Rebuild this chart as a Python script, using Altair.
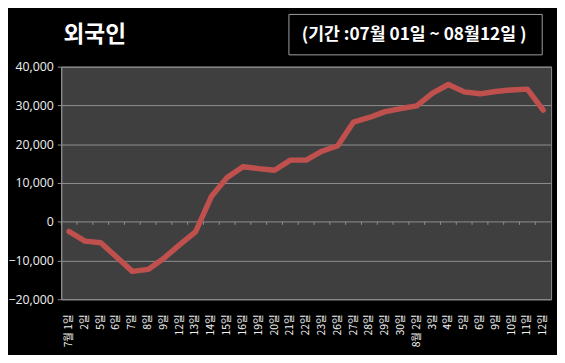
import altair as alt
import pandas as pd

# Tick labels (trading days 07/01 ~ 08/12)
labels = ["7월 1일", "2일", "5일", "6일", "7일", "8일", "9일", "12일", "13일", "14일",
          "15일", "16일", "19일", "20일", "21일", "22일", "23일", "26일", "27일", "28일",
          "29일", "30일", "8월 2일", "3일", "4일", "5일", "6일", "9일", "10일", "11일", "12일"]
# Cumulative foreign net buying
values = [-2500, -5000, -5400, -9100, -12800, -12300, -9400, -5900, -2600, 6500,
          11400, 14200, 13700, 13300, 15900, 15900, 18200, 19600, 25700, 26900,
          28400, 29200, 29900, 33200, 35400, 33500, 33000, 33600, 34000, 34200, 28800]
y_ticks = [-20000, -10000, 0, 10000, 20000, 30000, 40000]
title_text = "외국인"
period_text = "(기간 :07월 01일 ~ 08월12일 )"

df = pd.DataFrame({"idx": list(range(len(labels))), "value": values})

W, H = 497, 236
KR = "Noto Sans CJK KR"

label_expr = "[" + ",".join("'" + l + "'" for l in labels) + "][datum.value]"

xscale = alt.Scale(type="band", paddingInner=0, paddingOuter=0)
yscale = alt.Scale(domain=[y_ticks[0], y_ticks[-1]], nice=False)

xaxis = alt.Axis(
    title=None, labelExpr=label_expr, labelAngle=270, labelAlign="right",
    labelBaseline="middle", ticks=False, domain=False, labelPadding=15,
    labelFont=KR, labelFontSize=10.5, labelColor="#f0f0f0", grid=False)
yaxis = alt.Axis(
    title=None, values=y_ticks, labelExpr="format(datum.value, ',.0f')", grid=True,
    gridColor="#8f8f8f", gridWidth=1, domain=True, domainColor="#8f8f8f", ticks=True,
    tickColor="#8f8f8f", tickSize=4, labelFont="Open Sans", labelFontSize=12.5,
    labelColor="#f0f0f0", labelPadding=4)

base = alt.Chart(df)

line = base.mark_line(color="#c0504d", strokeWidth=5.5, strokeCap="round", strokeJoin="round").encode(
    x=alt.X("idx:O", scale=xscale, axis=xaxis),
    y=alt.Y("value:Q", scale=yscale, axis=yaxis),
)

zero_ticks = base.mark_rule(color="#8f8f8f", strokeWidth=1).encode(
    x=alt.X("idx:O", scale=xscale, bandPosition=0, axis=xaxis),
    y=alt.Y("z0:Q", scale=yscale, axis=yaxis),
    y2="z1:Q",
).transform_calculate(z0="0", z1="-800")

title = alt.Chart(pd.DataFrame({"t": [title_text]})).mark_text(
    font=KR, fontSize=23, fontWeight="bold", color="white", align="center", baseline="middle"
).encode(x=alt.value(34), y=alt.value(-32), text="t:N")

box = alt.Chart(pd.DataFrame({"t": [period_text]})).mark_rect(
    fill="black", stroke="#a0a0a0", strokeWidth=1
).encode(x=alt.value(231), x2=alt.value(488), y=alt.value(-53), y2=alt.value(-12))

period = alt.Chart(pd.DataFrame({"t": [period_text]})).mark_text(
    font=KR, fontSize=17.5, fontWeight="bold", color="white", align="center", baseline="middle"
).encode(x=alt.value(358), y=alt.value(-32), text="t:N")

chart = alt.layer(zero_ticks, line, box, title, period).properties(
    width=W, height=H,
    background="black",
    padding={"left": 54, "top": 57, "right": 6, "bottom": 54},
    autosize=alt.AutoSizeParams(type="none"),
).configure_view(
    fill="#3f3f3f", stroke="#8f8f8f", strokeWidth=1
)

chart.save("out.html", embed_options={"renderer": "svg", "actions": False})
